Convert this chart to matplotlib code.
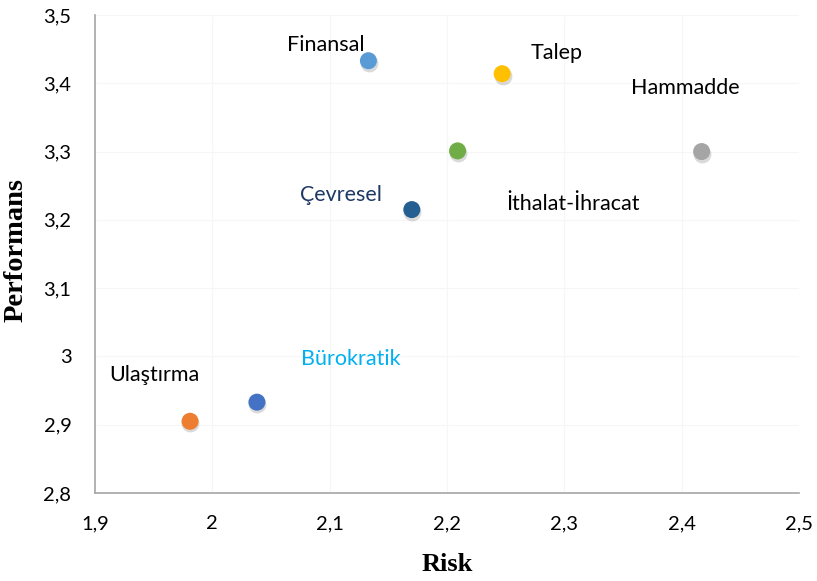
"""
Risk vs. performance scatter (Turkish labels)
"""
import matplotlib.pyplot as plt
from matplotlib.ticker import FuncFormatter
import matplotlib.transforms as mtransforms

names = ['Finansal', 'Talep', 'İthalat-İhracat', 'Hammadde',
         'Çevresel', 'Bürokratik', 'Ulaştırma']
risk = [2.133, 2.247, 2.209, 2.417, 2.170, 2.038, 1.981]
perf = [3.433, 3.414, 3.301, 3.300, 3.215, 2.933, 2.905]
colors = ['#5B9BD5', '#FFC000', '#70AD47', '#A5A5A5',
          '#255E91', '#4472C4', '#ED7D31']

# where each label sits (data coords) and its text colour
label_xy = [(2.097, 3.456), (2.293, 3.444), (2.307, 3.223), (2.403, 3.393),
            (2.110, 3.236), (2.118, 2.996), (1.951, 2.973)]
label_colors = ['black', 'black', 'black', 'black',
                '#1F3864', '#00B0F0', 'black']

xticks = [1.9, 2.0, 2.1, 2.2, 2.3, 2.4, 2.5]
yticks = [2.8, 2.9, 3.0, 3.1, 3.2, 3.3, 3.4, 3.5]

fig = plt.figure(figsize=(8.17, 5.81), dpi=100)
ax = fig.add_axes([0.1163, 0.1515, 0.8617, 0.8227])

# soft shadow under each marker
shadow = mtransforms.offset_copy(ax.transData, fig=fig, x=0.3, y=-1.5, units='points')
ax.scatter(risk, perf, s=165, color='#595959', alpha=0.22, transform=shadow,
           linewidths=0, zorder=2)
ax.scatter(risk, perf, s=150, c=colors, linewidths=0, zorder=3)

for name, (lx, ly), lc in zip(names, label_xy, label_colors):
    ax.text(lx, ly, name, color=lc, fontsize=15.5, family='Lato',
            ha='center', va='center')

ax.set_xlim(1.9, 2.5)
ax.set_ylim(2.8, 3.5)
ax.set_xticks(xticks)
ax.set_yticks(yticks)

fmt = FuncFormatter(lambda v, p: ('%g' % round(v, 2)).replace('.', ','))
ax.xaxis.set_major_formatter(fmt)
ax.yaxis.set_major_formatter(fmt)
ax.tick_params(length=0, labelsize=14.5)
for lbl in ax.get_xticklabels() + ax.get_yticklabels():
    lbl.set_family('Lato')
ax.tick_params(axis='y', pad=17)
ax.tick_params(axis='x', pad=16)

ax.grid(True, color='#F6F6F6', linewidth=0.8)
ax.set_axisbelow(True)
for side in ('top', 'right'):
    ax.spines[side].set_visible(False)
for side in ('left', 'bottom'):
    ax.spines[side].set_color('#A6A6A6')
    ax.spines[side].set_linewidth(1.2)

ax.set_xlabel('Risk', family='Liberation Serif', fontweight='bold', fontsize=19)
ax.set_ylabel('Performans', family='Liberation Serif', fontweight='bold', fontsize=20.5)
ax.xaxis.set_label_coords(0.5, -0.125)
ax.yaxis.set_label_coords(-0.094, 0.508)

plt.savefig('out.png', dpi=100)
